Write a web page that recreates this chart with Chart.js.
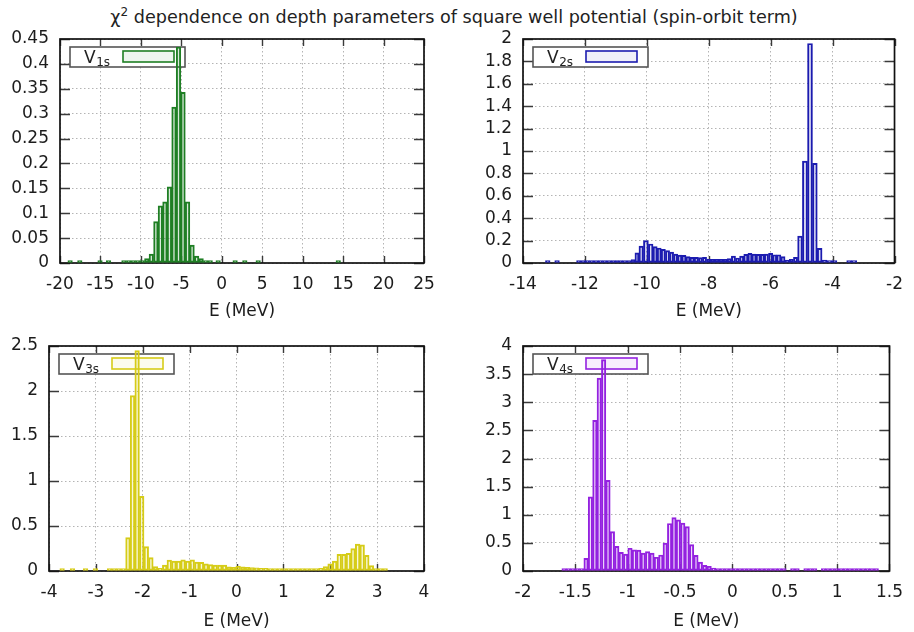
<!DOCTYPE html>
<html>
<head>
<meta charset="utf-8">
<title>chi2 histograms</title>
<script src="https://cdn.jsdelivr.net/npm/chart.js@4.4.1/dist/chart.umd.min.js"></script>
<style>
  html, body { margin: 0; padding: 0; background: #fff; }
  #page { position: relative; width: 914px; height: 632px; overflow: hidden; font-family: "DejaVu Sans", sans-serif; }
  #title { position: absolute; left: 0; top: 6px; width: 908px; text-align: center; font-size: 17.6px; line-height: 22px; color: #222; white-space: nowrap; }
  #title sup { font-size: 12px; line-height: 0; vertical-align: 7px; }
  canvas { position: absolute; }
</style>
</head>
<body>
<div id="page">
  <div id="title">χ<sup>2</sup> dependence on depth parameters of square well potential (spin-orbit term)</div>
  <canvas id="p1" width="457" height="330" style="left:0px;top:0px"></canvas>
  <canvas id="p2" width="457" height="330" style="left:457px;top:0px"></canvas>
  <canvas id="p3" width="457" height="322" style="left:0px;top:310px"></canvas>
  <canvas id="p4" width="457" height="322" style="left:457px;top:310px"></canvas>
</div>
<script>
// ---- V1s : bin centres (MeV) and chi^2 values ----
const energies1 = [-18.75, -17.55, -15.05, -14.0, -12.1, -11.51, -10.95, -10.39, -9.83, -9.27,
  -8.71, -8.15, -7.59, -7.03, -6.47, -5.91, -5.35, -4.79, -4.23, -3.67,
  -3.11, -2.55, -1.99, -1.43, -0.45, 1.65, 2.85, 4.5, 14.4];
const chi1 = [0, 0, 0, 0, 0, 0, 0.001, 0.002, 0.003, 0.009,
  0.018, 0.083, 0.115, 0.123, 0.153, 0.313, 0.434, 0.343, 0.123, 0.036,
  0.014, 0.009, 0.004, 0.001, 0, 0, 0, 0, 0];
const xTicks1 = [-20, -15, -10, -5, 0, 5, 10, 15, 20, 25];
const yTicks1 = [0, 0.05, 0.1, 0.15, 0.2, 0.25, 0.3, 0.35, 0.4, 0.45];

// ---- V2s (null = empty bin) ----
const energies2 = [-13.35, -13.2, -13.05, -12.9, -12.75, -12.34, -12.2, -12.06, -11.92, -11.78,
  -11.64, -11.5, -11.36, -11.22, -11.08, -10.96, -10.85, -10.71, -10.57, -10.45,
  -10.32, -10.19, -10.03, -9.87, -9.73, -9.6, -9.47, -9.33, -9.2, -9.07,
  -8.94, -8.8, -8.67, -8.54, -8.4, -8.27, -8.14, -8.0, -7.87, -7.74,
  -7.6, -7.47, -7.34, -7.2, -7.07, -6.94, -6.8, -6.67, -6.54, -6.4,
  -6.27, -6.14, -6.0, -5.87, -5.74, -5.6, -5.47, -5.33, -5.2, -5.06,
  -4.89, -4.73, -4.57, -4.42, -4.26, -4.1, -3.94, -3.78, -3.62, -3.47,
  -3.32, -3.12];
const chi2 = [null, 0, null, 0, null, null, 0, 0, 0, 0,
  0, 0, 0, 0, 0, 0.005, 0.012, 0.015, 0.02, 0.03,
  0.09, 0.15, 0.2, 0.17, 0.146, 0.134, 0.122, 0.11, 0.098, 0.08,
  0.07, 0.068, 0.057, 0.05, 0.05, 0.048, 0.05, 0.036, 0.033, 0.033,
  0.033, 0.033, 0.04, 0.062, 0.045, 0.062, 0.077, 0.086, 0.08, 0.077,
  0.077, 0.08, 0.086, 0.074, 0.074, 0.057, 0.027, 0.033, 0.05, 0.24,
  0.91, 1.96, 0.89, 0.13, 0.027, 0.018, 0.005, null, null, 0,
  0, null];
const xTicks2 = [-14, -12, -10, -8, -6, -4, -2];
const yTicks2 = [0, 0.2, 0.4, 0.6, 0.8, 1, 1.2, 1.4, 1.6, 1.8, 2];

// ---- V3s ----
const energies3 = [-3.72, -3.5, -3.22, -3.01, -2.708, -2.61, -2.512, -2.414, -2.316, -2.218,
  -2.12, -2.022, -1.924, -1.826, -1.728, -1.63, -1.532, -1.434, -1.336, -1.238,
  -1.14, -1.042, -0.944, -0.846, -0.748, -0.65, -0.552, -0.454, -0.356, -0.258,
  -0.16, -0.062, 0.036, 0.134, 0.232, 0.33, 0.428, 0.526, 0.624, 0.722,
  0.82, 0.918, 1.016, 1.114, 1.212, 1.31, 1.408, 1.506, 1.604, 1.702,
  1.8, 1.898, 1.996, 2.094, 2.192, 2.29, 2.388, 2.486, 2.584, 2.682,
  2.78, 2.878, 2.976, 3.074, 3.172];
const chi3 = [0.006, 0.006, 0.006, 0.008, 0.005, 0.005, 0.008, 0.026, 0.37, 1.95,
  2.45, 0.83, 0.27, 0.15, 0.05, 0.03, 0.065, 0.12, 0.11, 0.11,
  0.125, 0.11, 0.125, 0.1, 0.095, 0.08, 0.07, 0.065, 0.065, 0.065,
  0.045, 0.04, 0.055, 0.045, 0.04, 0.038, 0.035, 0.03, 0.03, 0.025,
  0.02, 0.025, 0.015, 0.02, 0.01, 0.008, 0.008, 0.008, 0.015, 0.02,
  0.03, 0.05, 0.08, 0.11, 0.185, 0.185, 0.195, 0.25, 0.3, 0.29,
  0.175, 0.06, 0.02, 0.005, 0.005];
const xTicks3 = [-4, -3, -2, -1, 0, 1, 2, 3, 4];
const yTicks3 = [0, 0.5, 1, 1.5, 2, 2.5];

// ---- V4s ----
const energies4 = [-1.608, -1.566, -1.524, -1.482, -1.44, -1.398, -1.356, -1.314, -1.272, -1.23,
  -1.188, -1.146, -1.104, -1.062, -1.02, -0.978, -0.936, -0.894, -0.852, -0.81,
  -0.768, -0.726, -0.684, -0.642, -0.6, -0.558, -0.516, -0.474, -0.432, -0.39,
  -0.348, -0.306, -0.264, -0.222, -0.18, -0.138, -0.096, -0.054, -0.012, 0.03,
  0.072, 0.114, 0.156, 0.198, 0.24, 0.282, 0.324, 0.366, 0.408, 0.45,
  0.492, 0.576, 0.618, 0.702, 0.744, 0.786, 0.87, 0.912, 0.954, 0.996,
  1.038, 1.08, 1.122, 1.164, 1.206, 1.248, 1.29, 1.332, 1.374];
const chi4 = [0.005, 0.005, 0.01, 0.015, 0.03, 0.225, 1.32, 2.68, 3.43, 3.76,
  1.61, 0.7, 0.44, 0.33, 0.3, 0.405, 0.375, 0.37, 0.32, 0.345,
  0.32, 0.245, 0.285, 0.495, 0.845, 0.95, 0.91, 0.85, 0.79, 0.47,
  0.28, 0.16, 0.1, 0.085, 0.05, 0.03, 0.01, 0.01, 0.005, 0,
  0, 0, 0, 0, 0, 0, 0, 0, 0, 0,
  0, 0, 0, 0, 0, 0, 0, 0, 0, 0,
  0, 0, 0, 0, 0, 0, 0.025, 0, 0];
const xTicks4 = [-2, -1.5, -1, -0.5, 0, 0.5, 1, 1.5];
const yTicks4 = [0, 0.5, 1, 1.5, 2, 2.5, 3, 3.5, 4];

const xTitle = 'E (MeV)';
const FONT = '"DejaVu Sans", sans-serif';
Chart.defaults.font.family = FONT;

// frame, inward tick marks and an opaque key, drawn beneath the bars
const framePlugin = {
  id: 'gpFrame',
  beforeDatasetsDraw(chart, args, o) {
    const { ctx, chartArea: a, scales: { x, y } } = chart;
    ctx.save();
    ctx.strokeStyle = '#3a3a3a';
    ctx.lineWidth = 1.4;
    ctx.beginPath();
    x.ticks.forEach(t => {
      const px = Math.round(x.getPixelForValue(t.value)) + 0.5;
      ctx.moveTo(px, a.bottom); ctx.lineTo(px, a.bottom - 7);
      ctx.moveTo(px, a.top); ctx.lineTo(px, a.top + 7);
    });
    y.ticks.forEach(t => {
      const py = Math.round(y.getPixelForValue(t.value)) + 0.5;
      ctx.moveTo(a.left, py); ctx.lineTo(a.left + 10, py);
      ctx.moveTo(a.right, py); ctx.lineTo(a.right - 10, py);
    });
    ctx.stroke();
    ctx.strokeStyle = '#111';
    ctx.lineWidth = 1.7;
    ctx.strokeRect(a.left, a.top, a.right - a.left, a.bottom - a.top);

    // key box
    const bx = a.left + 10, by = a.top + 8, bw = 115, bh = 20;
    ctx.fillStyle = '#fff';
    ctx.fillRect(bx, by, bw, bh);
    ctx.strokeStyle = '#555';
    ctx.lineWidth = 1.6;
    ctx.strokeRect(bx, by, bw, bh);
    ctx.fillStyle = '#222';
    ctx.textBaseline = 'alphabetic';
    ctx.textAlign = 'left';
    ctx.font = '17px ' + FONT;
    ctx.fillText(o.name, bx + 14, by + 16);
    const w = ctx.measureText(o.name).width;
    ctx.font = '12px ' + FONT;
    ctx.fillText(o.sub, bx + 14 + w + 0.5, by + 19);
    ctx.fillStyle = o.keyFill;
    ctx.fillRect(bx + 53, by + 4, 51, 11);
    ctx.strokeStyle = o.line;
    ctx.lineWidth = 1.6;
    ctx.strokeRect(bx + 53, by + 4, 51, 11);
    ctx.restore();
  }
};

function histogram(id, p) {
  const points = p.energies.map((e, i) => ({ x: e, y: p.values[i] }));
  const tickFont = { size: 17, family: FONT };
  return new Chart(document.getElementById(id), {
    type: 'bar',
    data: {
      datasets: [{
        data: points,
        borderColor: p.line,
        backgroundColor: p.fill,
        borderWidth: 1.3,
        borderSkipped: false,
        minBarLength: 2.5,
        barPercentage: 1,
        categoryPercentage: 1,
        barThickness: p.flex ? 'flex' : undefined
      }]
    },
    options: {
      responsive: false,
      maintainAspectRatio: false,
      animation: false,
      events: [],
      layout: { padding: { left: 0, top: p.padTop, right: p.padRight, bottom: 0 } },
      plugins: {
        legend: { display: false },
        tooltip: { enabled: false },
        gpFrame: { name: p.name, sub: p.sub, line: p.line, keyFill: p.keyFill }
      },
      scales: {
        x: {
          type: 'linear',
          offset: false,
          min: p.xTicks[0],
          max: p.xTicks[p.xTicks.length - 1],
          afterBuildTicks: s => { s.ticks = p.xTicks.map(v => ({ value: v })); },
          afterFit: s => { s.height = p.xHeight; },
          grid: { color: '#b4b4b4', lineWidth: 1, drawTicks: false, offset: false },
          border: { display: false, dash: [1.5, 2.5] },
          ticks: { color: '#1c1c1c', font: tickFont, padding: 11, autoSkip: false, maxRotation: 0,
                   callback: v => String(v) },
          title: { display: true, text: xTitle, color: '#1c1c1c', font: tickFont,
                   padding: { top: 0, bottom: p.titlePad } }
        },
        y: {
          type: 'linear',
          min: p.yTicks[0],
          max: p.yTicks[p.yTicks.length - 1],
          afterBuildTicks: s => { s.ticks = p.yTicks.map(v => ({ value: v })); },
          afterFit: s => { s.width = p.yWidth; },
          grid: { color: '#b4b4b4', lineWidth: 1, drawTicks: false },
          border: { display: false, dash: [1.5, 2.5] },
          ticks: { color: '#1c1c1c', font: tickFont, padding: 11, autoSkip: false,
                   callback: v => String(v) }
        }
      }
    },
    plugins: [framePlugin]
  });
}

histogram('p1', { energies: energies1, values: chi1, xTicks: xTicks1, yTicks: yTicks1,
  name: 'V', sub: '1s', line: '#1f7f24', fill: 'rgba(31,127,36,0.16)', keyFill: 'rgba(31,127,36,0.08)',
  padTop: 39, padRight: 33, yWidth: 60, xHeight: 67, titlePad: 7.8 });
histogram('p2', { energies: energies2, values: chi2, xTicks: xTicks2, yTicks: yTicks2, flex: true,
  name: 'V', sub: '2s', line: '#1c1cb0', fill: 'rgba(28,28,176,0.15)', keyFill: 'rgba(28,28,176,0.07)',
  padTop: 39, padRight: 16, yWidth: 66, xHeight: 67, titlePad: 7.8 });
histogram('p3', { energies: energies3, values: chi3, xTicks: xTicks3, yTicks: yTicks3,
  name: 'V', sub: '3s', line: '#d6cc18', fill: 'rgba(214,204,24,0.16)', keyFill: 'rgba(214,204,24,0.08)',
  padTop: 36, padRight: 33, yWidth: 49, xHeight: 61, titlePad: 0.1 });
histogram('p4', { energies: energies4, values: chi4, xTicks: xTicks4, yTicks: yTicks4,
  name: 'V', sub: '4s', line: '#9422e0', fill: 'rgba(148,34,224,0.16)', keyFill: 'rgba(148,34,224,0.08)',
  padTop: 36, padRight: 16, yWidth: 66, xHeight: 61, titlePad: 0.1 });
</script>
</body>
</html>
